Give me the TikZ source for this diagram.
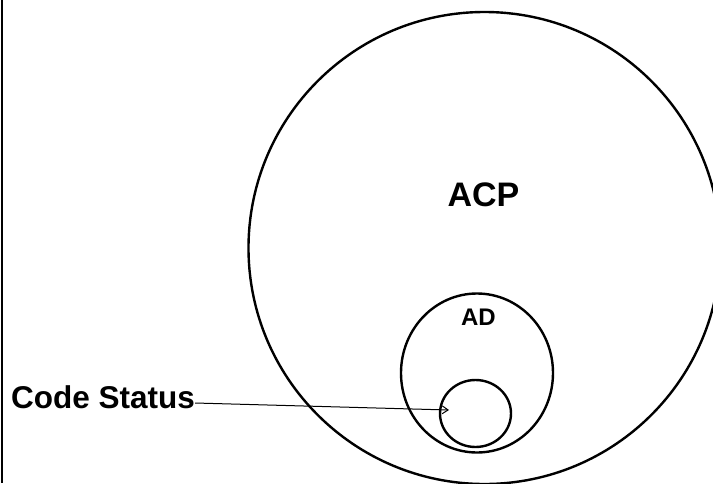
\documentclass[tikz,border=0pt]{standalone}
\usepackage{fontspec}
\setmainfont{Liberation Sans}
\usetikzlibrary{shapes.geometric,arrows.meta}
\begin{document}
\begin{tikzpicture}[x=1pt,y=1pt,
  ring/.style={draw=black,line width=2.4pt,ellipse,inner sep=0pt},
  lbl/.style={inner sep=0pt,font=\bfseries}]
\useasboundingbox (0,0) rectangle (713,-483);
\begin{scope}
\clip (0,0) rectangle (713,-483);
\node[ring,minimum width=472pt,minimum height=472pt] (acp) at (484.5,-248) {};
\end{scope}
\node[ring,minimum width=152pt,minimum height=159pt] (ad) at (477,-373) {};
\node[ring,minimum width=71pt,minimum height=67pt] (cs) at (475.5,-413.5) {};
\draw[line width=2.6pt] (2,0) -- (2,-483);
\node[lbl,anchor=base,font=\bfseries\fontsize{34}{37}\selectfont] (tacp) at (483.5,-206) {ACP};
\node[lbl,anchor=base,font=\bfseries\fontsize{24}{27}\selectfont] (tad) at (478.5,-325) {AD};
\node[lbl,anchor=base west,font=\bfseries\fontsize{31.5}{34}\selectfont] (tcs) at (11,-408) {Code Status};
\coordinate (tip) at (449,-410);
\draw[line width=1pt,-{Straight Barb[length=6pt,width=8pt]}] ([yshift=5pt]tcs.base east) -- (tip);
\end{tikzpicture}
\end{document}
